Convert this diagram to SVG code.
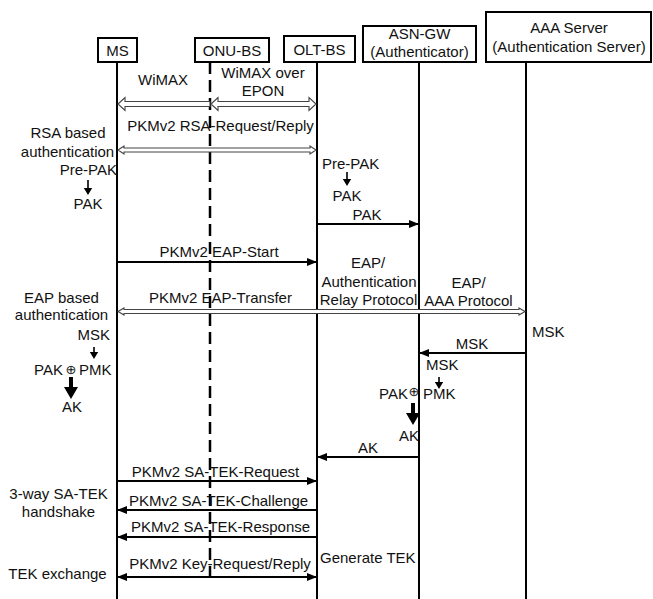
<svg xmlns="http://www.w3.org/2000/svg" width="653" height="599" viewBox="0 0 653 599">
<style>
text{font-family:"Liberation Sans",Arial,"DejaVu Sans",sans-serif;font-size:15px;fill:#111}
.c{text-anchor:middle}
.e{text-anchor:end}
.box{fill:#fff;stroke:#000;stroke-width:2}
.life{stroke:#000;stroke-width:2;fill:none}
.dash{stroke:#000;stroke-width:2.5;stroke-dasharray:12 6;fill:none}
.msg{stroke:#000;stroke-width:2;fill:none}
.hollow{fill:#fff;stroke:#444;stroke-width:1.1}
.ah{fill:#000}
.ox{font-family:"DejaVu Sans",sans-serif;font-size:13px}
</style>
<defs>
<marker id="arr" markerUnits="userSpaceOnUse" markerWidth="10" markerHeight="8" refX="10" refY="4" orient="auto-start-reverse">
<path d="M0,0 L10,4 L0,8 z" fill="#000"/>
</marker>
</defs>

<g id="node-ms">
<line class="life" x1="117" y1="62" x2="117" y2="599"/>
<rect class="box" x="98" y="38" width="39" height="24"/>
<text class="c" x="117.5" y="56">MS</text>
</g>
<g id="node-onu-bs">
<line class="dash" x1="210" y1="62" x2="210" y2="577"/>
<rect class="box" x="195" y="38" width="74" height="24"/>
<text class="c" x="232" y="56">ONU-BS</text>
</g>
<g id="node-olt-bs">
<line class="life" x1="317" y1="62" x2="317" y2="599"/>
<rect class="box" x="284" y="36" width="71" height="26"/>
<text class="c" x="319.5" y="55">OLT-BS</text>
</g>
<g id="node-asn-gw">
<line class="life" x1="419" y1="62" x2="419" y2="599"/>
<rect class="box" x="363" y="26" width="113" height="36"/>
<text class="c" x="419.5" y="39">ASN-GW</text>
<text class="c" x="419.5" y="57">(Authenticator)</text>
</g>
<g id="node-aaa">
<line class="life" x1="526" y1="62" x2="526" y2="599"/>
<rect class="box" x="486" y="12" width="165" height="50"/>
<text class="c" x="569" y="33">AAA Server</text>
<text class="c" x="569" y="52">(Authentication Server)</text>
</g>

<g id="connectors">
<path class="hollow" d="M118,104 L125,97.5 L125,101.5 L210,101.5 L210,106.5 L125,106.5 L125,110.5 Z"/>
<path class="hollow" d="M211,104 L218,97.5 L218,101.5 L309,101.5 L309,97.5 L316,104 L309,110.5 L309,106.5 L218,106.5 L218,110.5 Z"/>
<path class="hollow" d="M118,150 L124,146 L124,148 L310,148 L310,146 L316,150 L310,154 L310,152 L124,152 L124,154 Z"/>
<path class="hollow" d="M118,311.5 L124,308 L124,309.5 L519,309.5 L519,308 L525,311.5 L519,315 L519,313.5 L124,313.5 L124,315 Z"/>

<line class="msg" x1="317" y1="224" x2="419" y2="224" marker-end="url(#arr)"/>
<line class="msg" x1="117" y1="262" x2="317" y2="262" marker-end="url(#arr)"/>
<line class="msg" x1="526" y1="353" x2="419" y2="353" marker-end="url(#arr)"/>
<line class="msg" x1="419" y1="457" x2="317" y2="457" marker-end="url(#arr)"/>
<line class="msg" x1="117" y1="481" x2="317" y2="481" marker-end="url(#arr)"/>
<line class="msg" x1="317" y1="510" x2="117" y2="510" marker-end="url(#arr)"/>
<line class="msg" x1="317" y1="537" x2="117" y2="537" marker-end="url(#arr)"/>
<line class="msg" x1="117" y1="577" x2="317" y2="577" marker-start="url(#arr)" marker-end="url(#arr)"/>
</g>

<g id="labels">
<text class="c" x="163" y="85">WiMAX</text>
<text class="c" x="263" y="78">WiMAX over</text>
<text class="c" x="263" y="96">EPON</text>
<text class="c" x="220.5" y="131">PKMv2 RSA-Request/Reply</text>
<text class="c" x="367" y="220">PAK</text>
<text class="c" x="219" y="257">PKMv2 EAP-Start</text>
<text class="c" x="368" y="268">EAP/</text>
<text class="c" x="369" y="287">Authentication</text>
<text class="c" x="368.5" y="305">Relay Protocol</text>
<text class="c" x="468.5" y="288">EAP/</text>
<text class="c" x="468.5" y="306">AAA Protocol</text>
<text class="c" x="220.5" y="303">PKMv2 EAP-Transfer</text>
<text class="c" x="472" y="349">MSK</text>
<text class="c" x="368" y="453">AK</text>
<text class="c" x="215.5" y="477">PKMv2 SA-TEK-Request</text>
<text class="c" x="218.5" y="506">PKMv2 SA-TEK-Challenge</text>
<text class="c" x="220.5" y="532">PKMv2 SA-TEK-Response</text>
<text class="c" x="220" y="569">PKMv2 Key-Request/Reply</text>
</g>

<g id="annotations">
<text class="c" x="68" y="138">RSA based</text>
<text class="c" x="67.5" y="157">authentication</text>
<text class="e" x="117" y="175">Pre-PAK</text>
<path class="ah" d="M87.2,180 h1.6 v8 h3.4 l-4.2,7 l-4.2,-7 h3.4 z"/>
<text class="c" x="88" y="209">PAK</text>

<text x="322" y="169">Pre-PAK</text>
<path class="ah" d="M346.2,172 h1.6 v7 h3.4 l-4.2,7 l-4.2,-7 h3.4 z"/>
<text class="c" x="347" y="201">PAK</text>

<text class="c" x="61.5" y="303">EAP based</text>
<text class="c" x="61.5" y="320">authentication</text>
<text class="e" x="110" y="340">MSK</text>
<path class="ah" d="M93.2,347 h1.6 v5 h3.4 l-4.2,7 l-4.2,-7 h3.4 z"/>
<text class="e" x="63" y="375">PAK</text>
<text class="ox c" x="71" y="374">⊕</text>
<text x="79" y="375">PMK</text>
<path class="ah" d="M69,377 h4 v10 h5 l-7,12 l-7,-12 h5 z"/>
<text class="c" x="72" y="412">AK</text>

<text x="532" y="337">MSK</text>
<text x="426" y="370">MSK</text>
<path class="ah" d="M438.2,377 h1.6 v5 h3.4 l-4.2,7 l-4.2,-7 h3.4 z"/>
<text class="e" x="408" y="399">PAK</text>
<text class="ox c" x="414" y="396">⊕</text>
<text x="423" y="399">PMK</text>
<path class="ah" d="M411,403 h4 v10 h5 l-7,12 l-7,-12 h5 z"/>
<text class="c" x="409" y="441">AK</text>

<text class="c" x="58.5" y="499">3-way SA-TEK</text>
<text class="c" x="58.5" y="517">handshake</text>
<text class="c" x="57.5" y="579">TEK exchange</text>
<text x="320" y="563">Generate TEK</text>
</g>
</svg>
